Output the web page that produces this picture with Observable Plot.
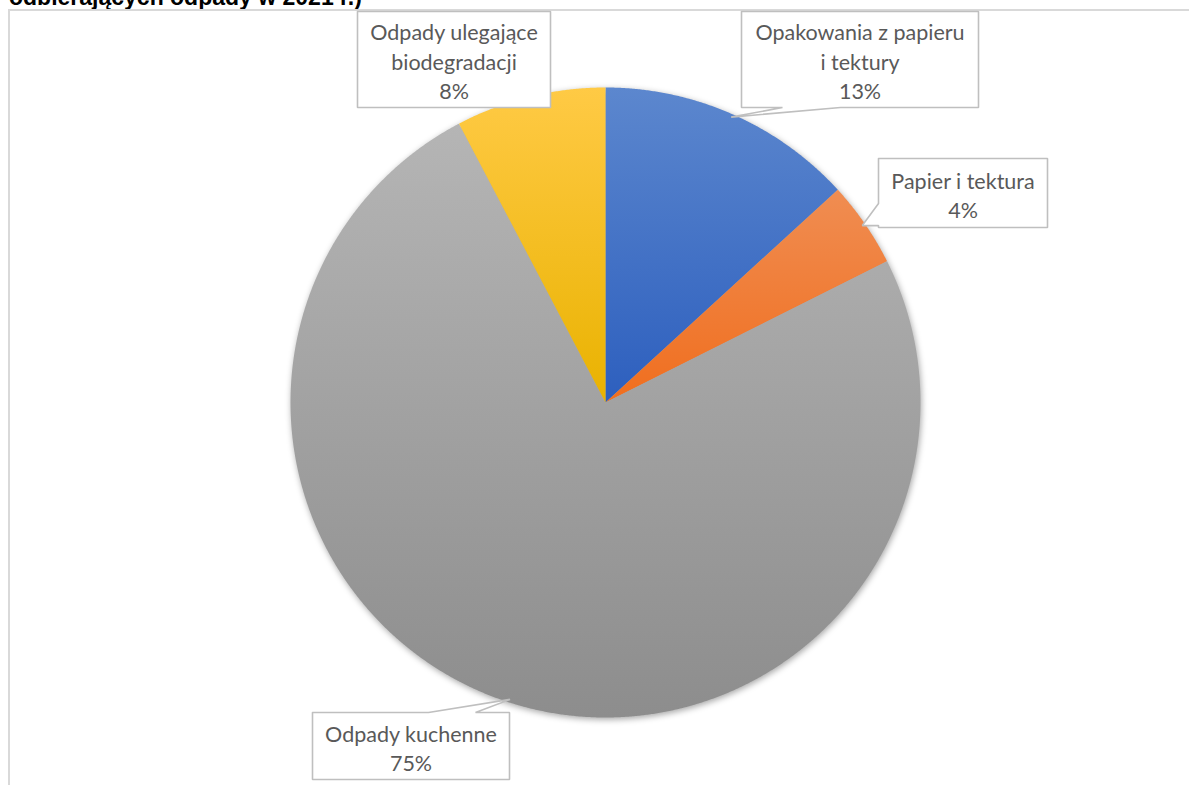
<!DOCTYPE html>
<html>
<head>
<meta charset="utf-8">
<script src="https://cdn.jsdelivr.net/npm/d3@7"></script>
<script src="https://cdn.jsdelivr.net/npm/@observablehq/plot@0.6"></script>
<style>
  html, body { margin: 0; padding: 0; background: #fff; overflow: hidden; width: 1189px; height: 785px; position: relative; }
  #title { position: absolute; left: 9px; top: -16px; font: bold 23px "Liberation Sans", Arial, sans-serif; color: #000; white-space: nowrap; }
  #frame { position: absolute; left: 8px; top: 9px; width: 1181px; height: 776px; border-left: 2px solid #d9d9d9; border-top: 2px solid #d9d9d9; box-sizing: border-box; }
  #chart { position: absolute; left: 0; top: 0; }
  #chart g.slices { filter: drop-shadow(1px 2px 3px rgba(0,0,0,0.35)); }
</style>
</head>
<body>
<div id="title">odbierających odpady w 2021 r.)</div>
<div id="frame"></div>
<div id="chart"></div>
<script>
// ---- data ----
const categories = ["Opakowania z papieru i tektury", "Papier i tektura", "Odpady kuchenne", "Odpady ulegające biodegradacji"];
const labelLines = ["Opakowania z papieru\ni tektury", "Papier i tektura", "Odpady kuchenne", "Odpady ulegające\nbiodegradacji"];
const shares = [13.2, 4.4, 74.7, 7.7];
const gradTop = ["#5c87ce", "#f08d52", "#b5b5b5", "#ffca45"];
const gradBottom = ["#2d5fbe", "#f06e1e", "#8d8d8d", "#e9b200"];

// ---- layout (pixels) ----
const W = 1189, H = 785;
const cx = 605, cy = 402, R = 315;
const boxes = [
  {x0: 741, y0: 11, x1: 978, y1: 107, side: "bottom", b: [782, 840]},
  {x0: 878, y0: 158, x1: 1047, y1: 227, side: "left", b: [203, 225]},
  {x0: 312, y0: 712, x1: 509, y1: 779, side: "top", b: [428, 475]},
  {x0: 357, y0: 11, x1: 550, y1: 107, side: null, b: null}
];

const pie = d3.pie().sort(null).value(d => d)(shares);

const slicePts = [];
pie.forEach((p, i) => {
  const n = Math.max(8, Math.ceil((p.endAngle - p.startAngle) / (Math.PI / 720)));
  slicePts.push({k: categories[i], x: cx, y: cy});
  for (let j = 0; j <= n; j++) {
    const t = p.startAngle + (p.endAngle - p.startAngle) * j / n;
    slicePts.push({k: categories[i], x: cx + R * Math.sin(t), y: cy - R * Math.cos(t)});
  }
  slicePts.push({k: categories[i], x: cx, y: cy});
});

const calloutPts = [];
boxes.forEach((b, i) => {
  const p = pie[i];
  const m = (p.startAngle + p.endAngle) / 2;
  const tx = cx + 0.99 * R * Math.sin(m), ty = cy - 0.99 * R * Math.cos(m);
  let pts;
  if (b.side === "bottom") {
    pts = [[b.x0, b.y0], [b.x1, b.y0], [b.x1, b.y1], [b.b[1], b.y1], [tx, ty], [b.b[0], b.y1], [b.x0, b.y1], [b.x0, b.y0]];
  } else if (b.side === "left") {
    pts = [[b.x0, b.y0], [b.x1, b.y0], [b.x1, b.y1], [b.x0, b.y1], [b.x0, b.b[1]], [tx, ty], [b.x0, b.b[0]], [b.x0, b.y0]];
  } else if (b.side === "top") {
    pts = [[b.x0, b.y0], [b.b[0], b.y0], [tx, ty], [b.b[1], b.y0], [b.x1, b.y0], [b.x1, b.y1], [b.x0, b.y1], [b.x0, b.y0]];
  } else {
    pts = [[b.x0, b.y0], [b.x1, b.y0], [b.x1, b.y1], [b.x0, b.y1], [b.x0, b.y0]];
  }
  pts.forEach(([x, y]) => calloutPts.push({k: categories[i], x, y}));
});

const labels = categories.map((c, i) => ({
  k: c,
  x: (boxes[i].x0 + boxes[i].x1) / 2,
  y: (boxes[i].y0 + boxes[i].y1) / 2 + 1,
  text: labelLines[i] + "\n" + Math.round(shares[i]) + "%"
}));

const chart = Plot.plot({
  width: W, height: H,
  margin: 0,
  x: {domain: [0, W], range: [0, W], axis: null},
  y: {domain: [0, H], range: [0, H], axis: null},
  color: {type: "ordinal", domain: categories, range: categories.map((c, i) => `url(#grad${i})`)},
  marks: [
    Plot.line(slicePts, {x: "x", y: "y", z: "k", fill: "k", stroke: null, className: "slices"}),
    Plot.line(calloutPts, {x: "x", y: "y", z: "k", fill: "white", stroke: "#bfbfbf", strokeWidth: 1.6, strokeLinejoin: "miter"}),
    Plot.text(labels, {x: "x", y: "y", text: "text", fill: "#595959", fontSize: 21.5, lineHeight: 1.37, textAnchor: "middle", lineAnchor: "middle", fontFamily: "Lato, 'Open Sans', sans-serif"})
  ]
});

const defs = d3.select(chart).insert("defs", ":first-child");
categories.forEach((c, i) => {
  const g = defs.append("linearGradient").attr("id", `grad${i}`).attr("x1", 0).attr("y1", 0).attr("x2", 0).attr("y2", 1);
  g.append("stop").attr("offset", "0%").attr("stop-color", gradTop[i]);
  g.append("stop").attr("offset", "100%").attr("stop-color", gradBottom[i]);
});

document.getElementById("chart").appendChild(chart);
</script>
</body>
</html>
